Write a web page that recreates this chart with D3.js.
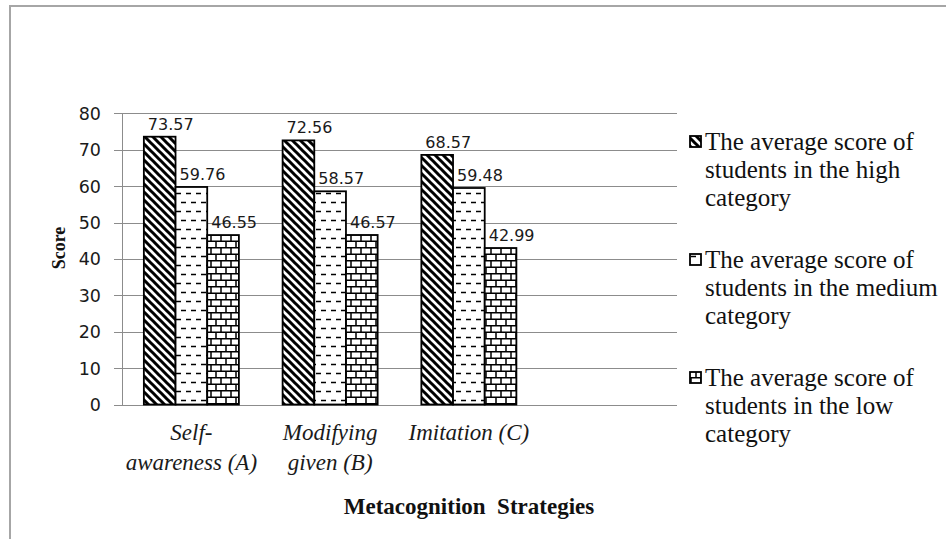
<!DOCTYPE html>
<html><head><meta charset="utf-8">
<script src="https://cdn.jsdelivr.net/npm/d3@7"></script>
<style>
html,body{margin:0;padding:0;background:#fff;}
svg{display:block;}
.serif{font-family:"Liberation Serif","Times New Roman","DejaVu Serif",serif;}
.sans{font-family:"DejaVu Sans",Verdana,sans-serif;}
</style></head>
<body>
<svg id="chart" width="946" height="539"></svg>
<script>
// ---- data ----
const categories = [["Self-", "awareness (A)"], ["Modifying", "given (B)"], ["Imitation (C)"]];
const seriesNames = [
  ["The average score of", "students in the high", "category"],
  ["The average score of", "students in the medium", "category"],
  ["The average score of", "students in the low", "category"]
];
const highValues = [73.57, 72.56, 68.57];
const mediumValues = [59.76, 58.57, 59.48];
const lowValues = [46.55, 46.57, 42.99];
const yTicks = [0, 10, 20, 30, 40, 50, 60, 70, 80];
const yTitle = "Score";
const xTitle = "Metacognition  Strategies";

const seriesValues = [highValues, mediumValues, lowValues];
const patternIds = ["pHigh", "pMed", "pLow"];

const svg = d3.select("#chart");

// ---- patterns ----
const defs = svg.append("defs");
const ph = defs.append("pattern").attr("id", "pHigh").attr("patternUnits", "userSpaceOnUse")
  .attr("width", 8).attr("height", 8);
ph.append("rect").attr("width", 8).attr("height", 8).attr("fill", "#fff");
ph.append("path").attr("d", "M-2,-2 L10,10 M-6,2 L2,10 M6,-2 L10,2")
  .attr("stroke", "#000").attr("stroke-width", 3);

const pm = defs.append("pattern").attr("id", "pMed").attr("patternUnits", "userSpaceOnUse")
  .attr("width", 10).attr("height", 18);
pm.append("rect").attr("width", 10).attr("height", 18).attr("fill", "#fff");
pm.append("path").attr("d", "M1,4.5 H6 M6,13.5 H11 M-4,13.5 H1")
  .attr("stroke", "#000").attr("stroke-width", 1.6);

const pl = defs.append("pattern").attr("id", "pLow").attr("patternUnits", "userSpaceOnUse")
  .attr("width", 10).attr("height", 13);
pl.append("rect").attr("width", 10).attr("height", 13).attr("fill", "#fff");
pl.append("path").attr("d", "M0,0.75 H10 M0,7.25 H10 M1,0 V7 M6,6.5 V13")
  .attr("stroke", "#000").attr("stroke-width", 1.5);

// ---- frame ----
svg.append("rect").attr("x", 10).attr("y", 6).attr("width", 960).attr("height", 560)
  .attr("fill", "#fff").attr("stroke", "#a6a6a6").attr("stroke-width", 2);

// ---- scales ----
const plotLeft = 122, plotRight = 677, yTop = 113.3, yBottom = 404.5;
const step = (plotRight - plotLeft) / 4;
const x = d3.scaleBand().domain(d3.range(categories.length))
  .range([plotLeft, plotLeft + step * categories.length]).paddingInner(0).paddingOuter(0);
const xs = d3.scaleBand().domain(d3.range(seriesValues.length))
  .range([0, x.bandwidth()]).paddingInner(0).paddingOuter(0.69);
const y = d3.scaleLinear().domain([0, 80]).range([yBottom, yTop]);

// ---- gridlines ----
const grid = svg.append("g");
grid.selectAll("line").data(yTicks).join("line")
  .attr("x1", plotLeft - 8).attr("x2", plotRight)
  .attr("y1", d => Math.round(y(d)) + 0.5).attr("y2", d => Math.round(y(d)) + 0.5)
  .attr("stroke", "#8c8c8c").attr("stroke-width", 1);
grid.append("line").attr("x1", plotLeft + 0.5).attr("x2", plotLeft + 0.5)
  .attr("y1", Math.round(y(80)) + 0.5).attr("y2", Math.round(y(0)) + 0.5)
  .attr("stroke", "#8c8c8c").attr("stroke-width", 1);

// y tick labels
svg.append("g").attr("class", "sans").selectAll("text").data(yTicks).join("text")
  .attr("x", 101).attr("y", d => y(d) + 6.5)
  .attr("text-anchor", "end").attr("font-size", 17.5)
  .attr("fill", "#1a1a1a").text(d => d);

// ---- bars ----
const flat = [];
seriesValues.forEach((vals, s) => vals.forEach((v, c) => flat.push({s, c, v})));
svg.append("g").selectAll("rect").data(flat).join("rect")
  .attr("x", d => x(d.c) + xs(d.s))
  .attr("y", d => y(d.v))
  .attr("width", xs.bandwidth())
  .attr("height", d => y(0) - y(d.v))
  .attr("fill", d => `url(#${patternIds[d.s]})`)
  .attr("stroke", "#000").attr("stroke-width", 1.8);

// data labels
svg.append("g").attr("class", "sans").selectAll("text").data(flat).join("text")
  .attr("x", d => x(d.c) + xs(d.s) + 4)
  .attr("y", d => y(d.v) - 7)
  .attr("font-size", 16)
  .attr("fill", "#1a1a1a").text(d => d.v.toFixed(2));

// ---- category labels ----
const cat = svg.append("g").attr("class", "serif")
  .attr("font-style", "italic").attr("font-size", 23).attr("fill", "#1a1a1a");
categories.forEach((lines, i) => {
  lines.forEach((ln, j) => {
    cat.append("text").attr("x", x(i) + x.bandwidth() / 2).attr("y", 440 + j * 30)
      .attr("text-anchor", "middle").text(ln);
  });
});

// ---- axis titles ----
svg.append("text").attr("class", "serif").attr("x", 469).attr("y", 514).attr("text-anchor", "middle")
  .attr("font-weight", "bold")
  .attr("font-size", 23).attr("fill", "#111").style("white-space", "pre").text(xTitle);
svg.append("text").attr("class", "serif").attr("transform", "translate(65,248) rotate(-90)").attr("text-anchor", "middle")
  .attr("font-weight", "bold")
  .attr("font-size", 18).attr("fill", "#111").text(yTitle);

// ---- legend ----
const leg = svg.append("g").attr("class", "serif")
  .attr("font-size", 25).attr("fill", "#111");
seriesNames.forEach((lines, i) => {
  const by = 150 + i * 118;
  leg.append("rect").attr("x", 690).attr("y", by - 14).attr("width", 11).attr("height", 11)
    .attr("fill", `url(#${patternIds[i]})`).attr("stroke", "#000").attr("stroke-width", 1.8);
  lines.forEach((ln, j) => {
    leg.append("text").attr("x", 705).attr("y", by + j * 28).text(ln);
  });
});
</script>
</body></html>
